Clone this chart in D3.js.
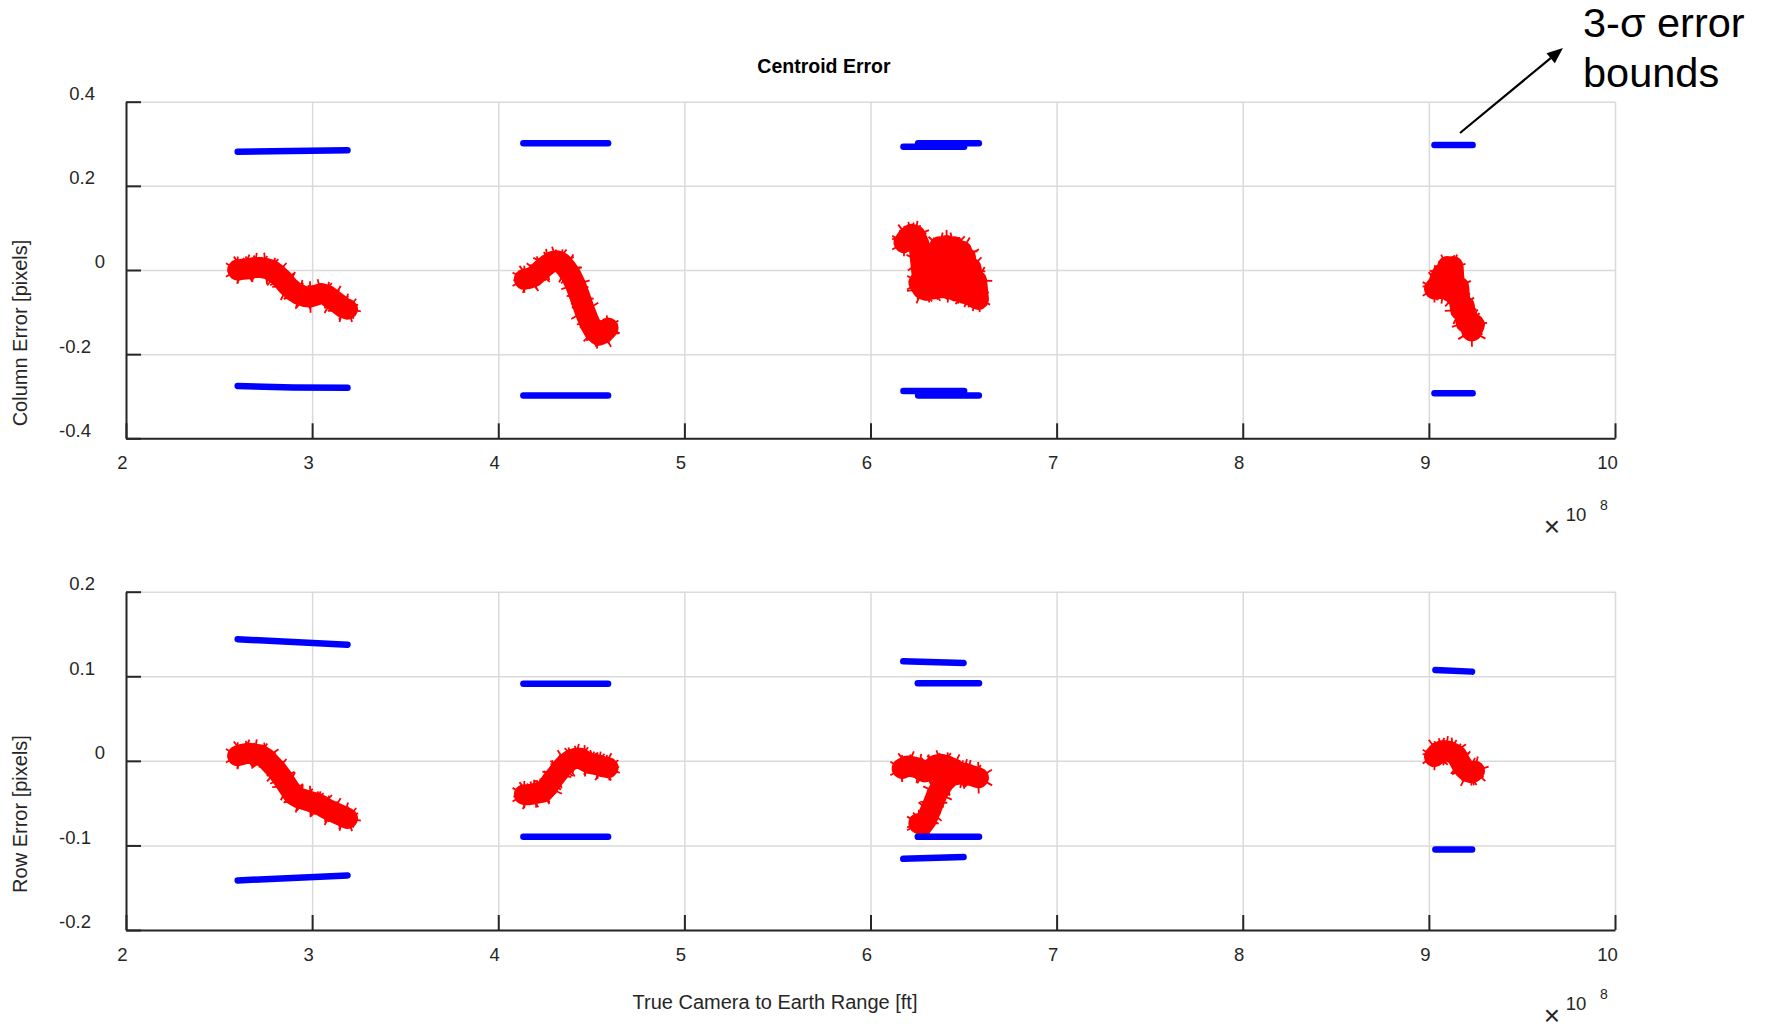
<!DOCTYPE html>
<html>
<head>
<meta charset="utf-8">
<script src="https://cdn.jsdelivr.net/npm/d3@7"></script>
<style>
  body { margin: 0; background: #fff; }
  svg { display: block; font-family: 'Liberation Sans', Arial, Helvetica, sans-serif; }
</style>
</head>
<body>
<svg id="chart" width="1767" height="1030"></svg>
<script>
// ---- data (range in 1e8 ft, error in pixels) ----
const xTicks = [2, 3, 4, 5, 6, 7, 8, 9, 10]
const colTicks = [-0.4, -0.2, 0, 0.2, 0.4]
const rowTicks = [-0.2, -0.1, 0, 0.1, 0.2]

// column error, one array per pass
const colPass1 = [[2.60, 0.000], [2.63, 0.002], [2.66, 0.003], [2.69, 0.006], [2.72, 0.006], [2.75, 0.004], [2.78, 0.000],
  [2.81, -0.010], [2.84, -0.022], [2.87, -0.038], [2.90, -0.050], [2.93, -0.058], [2.96, -0.063], [2.99, -0.064],
  [3.02, -0.060], [3.05, -0.056], [3.08, -0.060], [3.11, -0.070], [3.14, -0.080], [3.17, -0.090], [3.19, -0.093]]
const colPass2 = [[4.14, -0.022], [4.165, -0.020], [4.19, -0.016], [4.215, -0.006], [4.24, 0.004], [4.265, 0.013],
  [4.29, 0.020], [4.315, 0.022], [4.34, 0.017], [4.365, 0.004], [4.39, -0.012], [4.415, -0.035], [4.44, -0.065],
  [4.465, -0.097], [4.49, -0.125], [4.515, -0.145], [4.54, -0.155], [4.565, -0.150], [4.59, -0.138]]
const colPass3a = [[6.18, 0.065], [6.20, 0.078], [6.22, 0.085], [6.24, 0.082], [6.26, 0.062], [6.27, 0.020], [6.28, -0.025],
  [6.29, 0.030], [6.31, 0.000], [6.33, 0.040], [6.35, 0.000], [6.37, 0.055], [6.39, 0.005], [6.41, 0.058], [6.43, 0.005],
  [6.45, 0.055], [6.47, 0.010], [6.49, 0.045], [6.50, 0.020]]
const colPass3b = [[6.26, -0.030], [6.28, -0.045], [6.30, -0.048], [6.32, -0.010], [6.34, -0.045], [6.36, -0.005],
  [6.38, -0.042], [6.40, -0.005], [6.42, -0.045], [6.44, -0.010], [6.46, -0.050], [6.48, -0.015], [6.50, -0.055],
  [6.51, 0.030], [6.53, -0.060], [6.54, 0.005], [6.56, -0.066], [6.57, -0.025], [6.58, -0.070]]
const colPass4 = [[9.03, -0.045], [9.05, -0.035], [9.07, -0.010], [9.08, -0.045], [9.10, 0.008], [9.11, -0.050],
  [9.13, 0.008], [9.14, -0.060], [9.16, -0.040], [9.17, -0.095], [9.19, -0.085], [9.20, -0.125], [9.22, -0.120],
  [9.23, -0.145], [9.245, -0.130]]

// row error, one array per pass
const rowPass1 = [[2.60, 0.006], [2.63, 0.008], [2.66, 0.009], [2.69, 0.008], [2.72, 0.007], [2.75, 0.003], [2.78, -0.004],
  [2.81, -0.011], [2.84, -0.020], [2.87, -0.030], [2.90, -0.040], [2.93, -0.044], [2.96, -0.046], [2.99, -0.048],
  [3.02, -0.050], [3.05, -0.053], [3.08, -0.057], [3.11, -0.060], [3.14, -0.063], [3.17, -0.066], [3.19, -0.068]]
const rowPass2 = [[4.14, -0.040], [4.165, -0.040], [4.19, -0.039], [4.215, -0.038], [4.24, -0.037], [4.265, -0.031],
  [4.29, -0.023], [4.315, -0.016], [4.34, -0.009], [4.365, -0.003], [4.39, 0.001], [4.415, 0.003], [4.44, 0.003],
  [4.465, 0.000], [4.49, -0.003], [4.515, -0.004], [4.54, -0.005], [4.565, -0.007], [4.59, -0.008]]
const rowPass3a = [[6.17, -0.009], [6.20, -0.006], [6.23, -0.007], [6.26, -0.009], [6.29, -0.013], [6.32, -0.011],
  [6.35, -0.005], [6.38, -0.004], [6.41, -0.006], [6.44, -0.009], [6.47, -0.013], [6.50, -0.015]]
const rowPass3b = [[6.26, -0.074], [6.28, -0.076], [6.30, -0.070], [6.32, -0.060], [6.34, -0.049], [6.36, -0.038],
  [6.38, -0.030], [6.40, -0.024], [6.43, -0.018], [6.46, -0.016], [6.49, -0.014], [6.52, -0.016], [6.55, -0.018],
  [6.58, -0.020]]
const rowPass4 = [[9.03, 0.005], [9.05, 0.010], [9.07, 0.012], [9.09, 0.012], [9.11, 0.011], [9.13, 0.009], [9.15, 0.006],
  [9.17, -0.002], [9.19, -0.009], [9.21, -0.013], [9.23, -0.014], [9.245, -0.012]]

// 3-sigma bounds (start / end of each pass)
const colBounds = [
  [[2.60, 0.281], [3.19, 0.2845]], [[2.60, -0.2757], [2.90, -0.279], [3.19, -0.2797]],
  [[4.135, 0.301], [4.59, 0.301]], [[4.135, -0.298], [4.59, -0.298]],
  [[6.177, 0.293], [6.503, 0.293]], [[6.256, 0.301], [6.582, 0.301]],
  [[6.177, -0.2876], [6.503, -0.2876]], [[6.256, -0.298], [6.582, -0.298]],
  [[9.03, 0.297], [9.235, 0.297]], [[9.03, -0.293], [9.235, -0.293]]
]
const rowBounds = [
  [[2.60, 0.1438], [3.19, 0.1374]], [[2.60, -0.1414], [3.19, -0.1355]],
  [[4.135, 0.0913], [4.59, 0.0913]], [[4.135, -0.0898], [4.59, -0.0898]],
  [[6.176, 0.1178], [6.50, 0.1158]], [[6.254, 0.0917], [6.583, 0.0917]],
  [[6.254, -0.0898], [6.583, -0.0898]], [[6.176, -0.1158], [6.50, -0.1138]],
  [[9.035, 0.1075], [9.232, 0.1055]], [[9.035, -0.1048], [9.232, -0.1048]]
]

const colPasses = [colPass1, colPass2, colPass3a, colPass3b, colPass4]
const rowPasses = [rowPass1, rowPass2, rowPass3a, rowPass3b, rowPass4]

// ---- layout ----
const plotLeft = 126
const plotRight = 1615
const ink = '#262626'
const gridColor = '#dadada'

const svg = d3.select('#chart')
svg.append('rect').attr('width', 1767).attr('height', 1030).attr('fill', '#fff')

const x = d3.scaleLinear().domain([2, 10]).range([0, plotRight - plotLeft])
const fmtY = (d) => (d === 0 ? '0' : d.toFixed(1))
const asterisk = d3.symbolAsterisk || d3.symbolCross
const markSizes = [520, 700, 460, 620] // cycled so the '*' edges look ragged

function drawPanel(top, bottom, domain, ticks, passes, bounds) {
  const h = bottom - top
  const w = plotRight - plotLeft
  const y = d3.scaleLinear().domain(domain).range([h, 0])
  const g = svg.append('g').attr('transform', `translate(${plotLeft},${top})`)

  // grid
  g.append('g')
    .attr('transform', `translate(0,${h})`)
    .call(d3.axisBottom(x).tickValues(xTicks).tickSize(-h).tickFormat(''))
    .call((a) => a.select('.domain').remove())
    .selectAll('line')
    .attr('stroke', gridColor)
    .attr('stroke-width', 1.5)
  g.append('g')
    .call(d3.axisLeft(y).tickValues(ticks).tickSize(-w).tickFormat(''))
    .call((a) => a.select('.domain').remove())
    .selectAll('line')
    .attr('stroke', gridColor)
    .attr('stroke-width', 1.5)

  // measured error: dense '*' markers
  const line = d3.line().x((d) => x(d[0])).y((d) => y(d[1]))
  passes.forEach((pass) => {
    g.append('path')
      .datum(pass)
      .attr('d', line)
      .attr('fill', 'none')
      .attr('stroke', '#ff0000')
      .attr('stroke-width', 21)
      .attr('stroke-linejoin', 'round')
      .attr('stroke-linecap', 'round')
    g.append('g')
      .selectAll('path')
      .data(pass)
      .join('path')
      .attr('transform', (d, i) => `translate(${x(d[0])},${y(d[1])}) rotate(${(i * 23) % 60})`)
      .attr('d', (d, i) => d3.symbol(asterisk, markSizes[i % markSizes.length])())
      .attr('fill', 'none')
      .attr('stroke', '#ff0000')
      .attr('stroke-width', 1.8)
  })

  // 3-sigma bounds
  g.append('g')
    .selectAll('path')
    .data(bounds)
    .join('path')
    .attr('d', line)
    .attr('fill', 'none')
    .attr('stroke', '#0000ff')
    .attr('stroke-width', 6.5)
    .attr('stroke-linecap', 'round')

  // axes (box off, ticks inward)
  const xAxis = g.append('g')
    .attr('transform', `translate(0,${h})`)
    .call(d3.axisBottom(x).tickValues(xTicks).tickSizeInner(-15).tickSizeOuter(0).tickPadding(17.5).tickFormat(d3.format('d')))
  const yAxis = g.append('g')
    .call(d3.axisLeft(y).tickValues(ticks).tickSizeInner(-15).tickSizeOuter(0).tickPadding(31).tickFormat(fmtY))
  ;[xAxis, yAxis].forEach((a) => {
    a.select('.domain').attr('stroke', ink).attr('stroke-width', 2)
    a.selectAll('.tick line').attr('stroke', ink).attr('stroke-width', 2)
    a.selectAll('.tick text')
      .attr('fill', ink)
      .style('font-size', '18.5px')
      .style('font-family', "'Liberation Sans', Arial, sans-serif")
  })
  xAxis.selectAll('.tick text').attr('dx', (d) => (d >= 10 ? -8 : -4))
  yAxis.selectAll('.tick text')
    .attr('y', -8)
    .attr('dx', (d) => (d === 0 ? 10 : d < 0 ? -4 : 0))
}

drawPanel(101.7, 438.3, [-0.4, 0.4], colTicks, colPasses, colBounds)
drawPanel(591.7, 930, [-0.2, 0.2], rowTicks, rowPasses, rowBounds)

// ---- text ----
svg.append('text')
  .attr('x', 824).attr('y', 73)
  .attr('text-anchor', 'middle')
  .style('font-size', '19.5px').style('font-weight', 'bold')
  .attr('fill', '#000')
  .text('Centroid Error')

const yLabels = [
  { text: 'Column Error [pixels]', cy: 333 },
  { text: 'Row Error [pixels]', cy: 814 },
]
svg.selectAll('text.ylab')
  .data(yLabels)
  .join('text')
  .attr('class', 'ylab')
  .attr('transform', (d) => `translate(27,${d.cy}) rotate(-90)`)
  .attr('text-anchor', 'middle')
  .attr('fill', ink)
  .style('font-size', '20px')
  .text((d) => d.text)

svg.append('text')
  .attr('x', 775).attr('y', 1009)
  .attr('text-anchor', 'middle')
  .attr('fill', ink)
  .style('font-size', '20px')
  .text('True Camera to Earth Range [ft]')

// x10^8 exponent labels
;[528, 1017].forEach((cy) => {
  svg.append('text')
    .attr('x', 1552).attr('y', cy + 8)
    .attr('text-anchor', 'middle')
    .attr('fill', ink)
    .style('font-size', '28px')
    .style('font-weight', 300)
    .text('\u00d7')
  svg.append('text')
    .attr('x', 1576).attr('y', cy - 7.4)
    .attr('text-anchor', 'middle')
    .attr('fill', ink)
    .style('font-size', '18.5px')
    .text('10')
  svg.append('text')
    .attr('x', 1604).attr('y', cy - 18)
    .attr('text-anchor', 'middle')
    .attr('fill', ink)
    .style('font-size', '14px')
    .text('8')
})

// annotation
const note = svg.append('text')
  .attr('fill', '#000')
  .style('font-size', '41.5px')
note.append('tspan').attr('x', 1583).attr('y', 37).text('3-\u03c3 error')
note.append('tspan').attr('x', 1583).attr('y', 87).text('bounds')

const a0 = [1460, 133]
const a1 = [1563, 48]
const ang = Math.atan2(a1[1] - a0[1], a1[0] - a0[0])
const headLen = 16
const headW = 6.5
const base = [a1[0] - headLen * Math.cos(ang), a1[1] - headLen * Math.sin(ang)]
svg.append('line')
  .attr('x1', a0[0]).attr('y1', a0[1])
  .attr('x2', base[0]).attr('y2', base[1])
  .attr('stroke', '#000').attr('stroke-width', 2.2)
svg.append('path')
  .attr('d', d3.line()([
    a1,
    [base[0] + headW * Math.sin(ang), base[1] - headW * Math.cos(ang)],
    [base[0] - headW * Math.sin(ang), base[1] + headW * Math.cos(ang)],
  ]) + 'Z')
  .attr('fill', '#000')
</script>
</body>
</html>
